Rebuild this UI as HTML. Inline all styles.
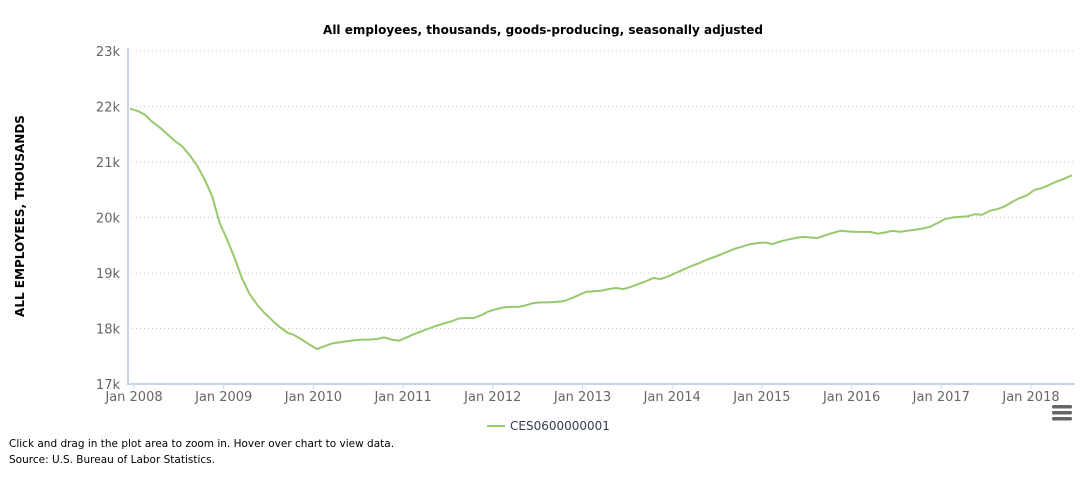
<!DOCTYPE html>
<html><head><meta charset="utf-8">
<style>
body{margin:0;background:#fff;width:1087px;height:477px;overflow:hidden;font-family:"DejaVu Sans","Liberation Sans",sans-serif;}
svg{position:absolute;left:0;top:0}
</style></head>
<body>
<svg id="chart" width="1087" height="477">
<text x="543" y="34" text-anchor="middle" font-size="12" font-weight="bold" fill="#000">All employees, thousands, goods-producing, seasonally adjusted</text>
<text transform="translate(24,216) rotate(-90)" text-anchor="middle" font-size="12" font-weight="bold" fill="#000">ALL EMPLOYEES, THOUSANDS</text>
<g id="grid"></g><g id="yt"></g><g id="xt"></g>
<line x1="128" y1="48" x2="128" y2="385" stroke="#c9d3e6" stroke-width="2"/>
<line x1="127" y1="384" x2="1075" y2="384" stroke="#c9d3e6" stroke-width="2"/>
<path id="series" fill="none" stroke="#98c96c" stroke-width="2" stroke-linejoin="round"/>
<g>
<line x1="487" y1="426" x2="505" y2="426" stroke="#98c96c" stroke-width="2"/>
<text x="510" y="430" font-size="12" fill="#333f4f">CES0600000001</text>
</g>
<g fill="#666">
<rect x="1052" y="405" width="20" height="3.5" rx="1.5"/><rect x="1052" y="411" width="20" height="3.5" rx="1.5"/><rect x="1052" y="417" width="20" height="3.5" rx="1.5"/>
</g>
<text x="9" y="447" font-size="10.5" fill="#000">Click and drag in the plot area to zoom in. Hover over chart to view data.</text>
<text x="9" y="463" font-size="10.5" fill="#000">Source: U.S. Bureau of Labor Statistics.</text>
</svg>
<script>
const xLabels=["Jan 2008","Jan 2009","Jan 2010","Jan 2011","Jan 2012","Jan 2013","Jan 2014","Jan 2015","Jan 2016","Jan 2017","Jan 2018"];
const yTicks=[17,18,19,20,21,22,23];
const values=[
21.96,21.92,21.85,21.72,21.62,21.50,21.38,21.28,21.12,20.93,20.68,20.38,
19.90,19.60,19.27,18.90,18.62,18.43,18.28,18.15,18.03,17.93,17.88,17.80,
17.71,17.63,17.68,17.73,17.75,17.77,17.79,17.80,17.80,17.81,17.84,17.80,
17.78,17.84,17.90,17.95,18.00,18.05,18.09,18.13,18.18,18.19,18.19,18.24,
18.31,18.35,18.38,18.39,18.39,18.42,18.46,18.47,18.47,18.48,18.49,18.54,
18.60,18.66,18.67,18.68,18.71,18.73,18.71,18.75,18.80,18.85,18.91,18.89,
18.94,19.00,19.06,19.12,19.17,19.23,19.28,19.33,19.39,19.44,19.48,19.52,
19.54,19.55,19.52,19.57,19.60,19.63,19.65,19.64,19.63,19.68,19.72,19.76,
19.75,19.74,19.74,19.74,19.71,19.73,19.76,19.74,19.76,19.78,19.80,19.83,
19.90,19.97,20.00,20.01,20.02,20.06,20.05,20.12,20.15,20.20,20.28,20.35,
20.40,20.50,20.53,20.59,20.65,20.70,20.76];
const NS="http://www.w3.org/2000/svg";
const x0=130,monthW=7.475;
function xs(m){return x0+m*monthW;}
function ys(v){return 384-(v-17)*55.5;}
const grid=document.getElementById('grid'),yt=document.getElementById('yt'),xt=document.getElementById('xt');
yTicks.forEach(v=>{
 if(v>17){const l=document.createElementNS(NS,'line');
 
 
 l.setAttribute('x1',128);l.setAttribute('x2',1075);l.setAttribute('y1',ys(v));l.setAttribute('y2',ys(v));
 l.setAttribute('stroke','#c8c8c8');l.setAttribute('stroke-dasharray','1,3');grid.appendChild(l);}
 const t=document.createElementNS(NS,'text');
 
 
 t.setAttribute('x',120);t.setAttribute('y',ys(v)+5);t.setAttribute('text-anchor','end');
 t.setAttribute('font-size','13');t.setAttribute('fill','#666');t.textContent=v+'k';yt.appendChild(t);
});
xLabels.forEach((s,i)=>{
 const x=xs(i*12)+4;
 const l=document.createElementNS(NS,'line');
 
 
 l.setAttribute('x1',x);l.setAttribute('x2',x);l.setAttribute('y1',384);l.setAttribute('y2',389);
 l.setAttribute('stroke','#c9d3e6');xt.appendChild(l);
 const t=document.createElementNS(NS,'text');
 
 
 t.setAttribute('x',x);t.setAttribute('y',401);t.setAttribute('text-anchor','middle');
 t.setAttribute('font-size','13');t.setAttribute('fill','#666');t.textContent=s;xt.appendChild(t);
});
document.getElementById('series').setAttribute('d',values.map((v,i)=>(i?'L':'M')+xs(i).toFixed(1)+','+ys(v).toFixed(1)).join(''));
</script>
</body></html>
